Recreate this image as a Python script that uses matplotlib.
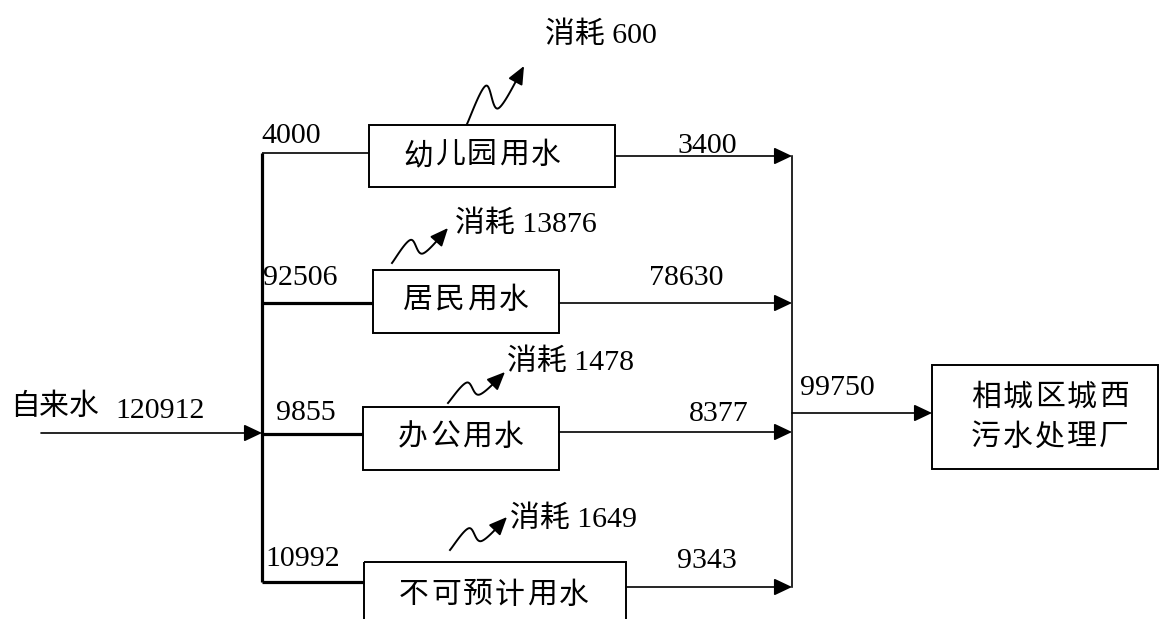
import numpy as np
import matplotlib
matplotlib.use("Agg")
import matplotlib.pyplot as plt
from matplotlib.patches import Rectangle

plt.rcParams['font.family'] = ['Liberation Serif', 'Noto Sans CJK SC', 'DejaVu Sans']

# ---- data ----
nodes = ['幼儿园用水', '居民用水', '办公用水', '不可预计用水']
inflow = [4000, 92506, 9855, 10992]
consumed = [600, 13876, 1478, 1649]
outflow = [3400, 78630, 8377, 9343]
source_label = '自来水'
source_total = 120912
sink_lines = ['相城区城西', '污水处理厂']
sink_total = 99750
consume_word = '消耗'

# ---- layout (pixel space) ----
W, H = 1162, 619
fig = plt.figure(figsize=(W / 100, H / 100), dpi=100)
ax = fig.add_axes([0, 0, 1, 1])
ax.set_xlim(0, W)
ax.set_ylim(H, 0)
ax.axis('off')

bus_x = 262
col_x = 792
boxes = [(369, 125, 615, 187), (373, 270, 559, 333), (363, 407, 559, 470), (364, 562, 626, 650)]
text_cx = [482, 466, 461, 494]
text_cy = [156, 301, 438, 596]
in_y = [153, 303, 434, 582]
out_y = [156, 303, 432, 587]
in_lab = [(261, 143), (263, 285), (276, 420), (265, 566)]
out_lab = [(677, 153), (649, 285), (689, 421), (677, 568)]
wave_start = [(467, 124), (392, 263), (448, 403), (450, 550)]
wave_end = [(524, 66), (448, 228), (505, 372), (507, 517)]
cons_lab = [(545, 43), (455, 232), (507, 370), (510, 527)]
FS = 21.5
PITCH = 32
thick = 2.3
thin = 1.2
ahead = dict(arrowstyle='-|>,head_length=0.55,head_width=0.26', color='black',
             lw=thin, mutation_scale=20, shrinkA=0, shrinkB=0)
whead = dict(arrowstyle='-|>,head_length=0.55,head_width=0.24', color='black',
             lw=1.3, mutation_scale=20, shrinkA=0, shrinkB=0)


def spaced(cx, cy, s, pitch=PITCH, ha='center'):
    n = len(s)
    if ha == 'center':
        x0 = cx - pitch * (n - 1) / 2
    else:
        x0 = cx + pitch / 2 - 2
    for k, ch in enumerate(s):
        ax.text(x0 + k * pitch, cy, ch, fontsize=FS, ha='center', va='center')


def catmull(pts, n=20):
    pts = np.asarray(pts, float)
    P = np.vstack([pts[0], pts, pts[-1]])
    out = []
    for i in range(1, len(P) - 2):
        p0, p1, p2, p3 = P[i - 1], P[i], P[i + 1], P[i + 2]
        t = np.linspace(0, 1, n, endpoint=False)[:, None]
        out.append(0.5 * ((2 * p1) + (-p0 + p2) * t + (2 * p0 - 5 * p1 + 4 * p2 - p3) * t ** 2
                          + (-p0 + 3 * p1 - 3 * p2 + p3) * t ** 3))
    out.append(pts[-1][None, :])
    return np.vstack(out)


# left bus
ax.plot([bus_x, bus_x], [in_y[0], in_y[-1]], color='black', lw=thick, solid_capstyle='butt')
# right collector
ax.plot([col_x, col_x], [out_y[0], out_y[-1]], color='black', lw=thin)

# source arrow
ax.annotate('', xy=(bus_x, 433), xytext=(41, 433), arrowprops=ahead)
spaced(12, 407, source_label, pitch=29.5, ha='left')
ax.text(115, 418, str(source_total), fontsize=FS, va='baseline')

for i, name in enumerate(nodes):
    x0, y0, x1, y1 = boxes[i]
    ax.add_patch(Rectangle((x0, y0), x1 - x0, y1 - y0, fill=False, ec='black', lw=1.4))
    spaced(text_cx[i], text_cy[i], name)
    lw = thin if i == 0 else thick
    ax.plot([bus_x, x0], [in_y[i], in_y[i]], color='black', lw=lw, solid_capstyle='butt')
    ax.text(in_lab[i][0], in_lab[i][1], str(inflow[i]), fontsize=FS, va='baseline')
    ax.annotate('', xy=(col_x, out_y[i]), xytext=(x1, out_y[i]), arrowprops=ahead)
    ax.text(out_lab[i][0], out_lab[i][1], str(outflow[i]), fontsize=FS, va='baseline')
    # wavy consumption arrow
    (sx, sy), (ex, ey) = wave_start[i], wave_end[i]
    dx, dy = ex - sx, ey - sy
    key = [(0, 0), (0.33, 0.66), (0.55, 0.27), (1, 1)]
    pts = [(sx + f * dx, sy + g * dy) for f, g in key]
    c = catmull(pts)
    ax.plot(c[:-4, 0], c[:-4, 1], color='black', lw=1.4)
    ax.annotate('', xy=(ex, ey), xytext=(c[-6, 0], c[-6, 1]), arrowprops=whead)
    ax.text(cons_lab[i][0], cons_lab[i][1], f'{consume_word} {consumed[i]}', fontsize=FS, va='baseline')

# sink
ax.annotate('', xy=(932, 413), xytext=(col_x, 413), arrowprops=ahead)
ax.text(800, 395, str(sink_total), fontsize=FS, va='baseline')
ax.add_patch(Rectangle((932, 365), 226, 104, fill=False, ec='black', lw=1.4))
spaced(1050, 398, sink_lines[0])
spaced(1050, 438, sink_lines[1])

fig.savefig('out.png', dpi=100)
